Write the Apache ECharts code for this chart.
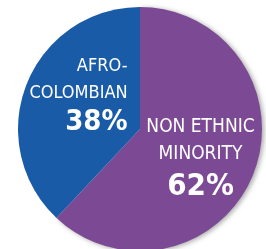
<!DOCTYPE html>
<html>
<head>
<meta charset="utf-8">
<script src="https://cdn.jsdelivr.net/npm/echarts@6/dist/echarts.min.js"></script>
<style>
  html, body { margin: 0; padding: 0; background: #fff; }
  #box { width: 266px; height: 249px; }
</style>
</head>
<body>
<div id="box"></div>
<script>
var groupNames = ['NON ETHNIC\nMINORITY', 'AFRO-\nCOLOMBIAN'];
var shares = [62, 38];
var sliceColors = ['#7c4a94', '#1a5ba8'];
var labelFont = '"DejaVu Sans Condensed", "Liberation Sans", sans-serif';

window.onload = function () {
    var myChart = echarts.init(document.getElementById('box'));

    var data = shares.map(function (v, i) {
        var item = {
            name: groupNames[i],
            value: v,
            itemStyle: { color: sliceColors[i] }
        };
        if (i === 0) {
            item.itemStyle.shadowBlur = 5;
            item.itemStyle.shadowColor = 'rgba(0,0,0,0.35)';
            item.itemStyle.shadowOffsetX = 2;
            item.itemStyle.shadowOffsetY = 1;
            item.label = {
                offset: [1, 7],
                formatter: function (p) {
                    return p.name.split('\n').map(function (s) { return '{n|' + s + '}'; }).join('\n') +
                        '\n{p|' + p.value + '%}';
                }
            };
        } else {
            item.label = {
                offset: [-2, -10],
                formatter: function (p) {
                    return p.name.split('\n').map(function (s) { return '{a|' + s + '}'; }).join('\n') +
                        '\n{q|' + p.value + '%}';
                }
            };
        }
        return item;
    });

    var option = {
        backgroundColor: '#fff',
        animation: false,
        series: [{
            type: 'pie',
            center: [140, 129],
            radius: 122,
            startAngle: 90,
            clockwise: true,
            silent: true,
            label: {
                show: true,
                position: 'inside',
                color: '#fff',
                fontFamily: labelFont,
                rich: {
                    n: { color: '#fff', fontFamily: labelFont, fontSize: 19, lineHeight: 27, align: 'center' },
                    p: { color: '#fff', fontFamily: labelFont, fontWeight: 'bold', fontSize: 31, lineHeight: 37, align: 'center' },
                    a: { color: '#fff', fontFamily: labelFont, fontSize: 18, lineHeight: 27, align: 'right' },
                    q: { color: '#fff', fontFamily: labelFont, fontWeight: 'bold', fontSize: 29, lineHeight: 31, align: 'right' }
                }
            },
            labelLine: { show: false },
            data: data
        }]
    };
    myChart.setOption(option);
};
</script>
</body>
</html>
